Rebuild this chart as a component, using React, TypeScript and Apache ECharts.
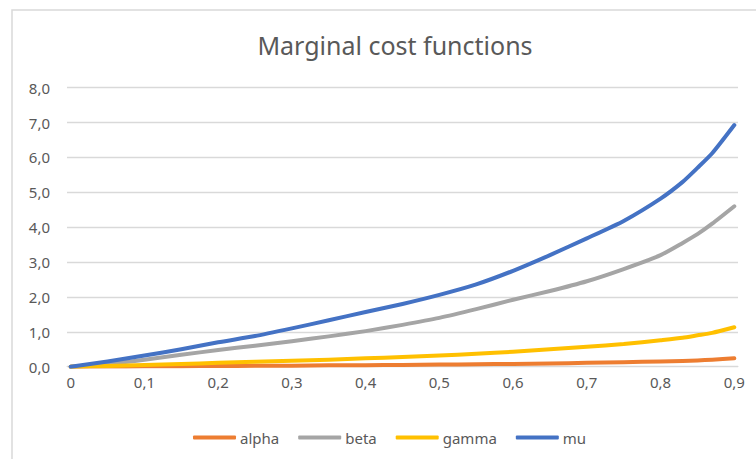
import React, { useEffect, useRef } from "react";
import * as echarts from "echarts";

const xPoints = [0, 0.05, 0.1, 0.15, 0.2, 0.25, 0.3, 0.35, 0.4, 0.45, 0.5, 0.55, 0.6, 0.65, 0.7, 0.75, 0.8, 0.83, 0.85, 0.87, 0.9];
const alpha = [0, 0.005, 0.01, 0.015, 0.02, 0.025, 0.03, 0.04, 0.045, 0.05, 0.06, 0.07, 0.08, 0.09, 0.11, 0.13, 0.15, 0.165, 0.18, 0.2, 0.24];
const beta = [0, 0.08, 0.2, 0.34, 0.48, 0.6, 0.73, 0.87, 1.02, 1.2, 1.4, 1.65, 1.92, 2.17, 2.45, 2.8, 3.2, 3.55, 3.8, 4.1, 4.6];
const gamma = [0, 0.02, 0.05, 0.08, 0.11, 0.14, 0.17, 0.2, 0.24, 0.28, 0.32, 0.37, 0.43, 0.5, 0.57, 0.65, 0.76, 0.83, 0.9, 0.97, 1.13];
const mu = [0, 0.15, 0.32, 0.5, 0.7, 0.88, 1.1, 1.33, 1.57, 1.8, 2.06, 2.36, 2.75, 3.2, 3.68, 4.18, 4.82, 5.3, 5.7, 6.12, 6.93];

const categoryCount = 91; // 0 .. 0,90 in steps of 0,01
const categories = Array.from({ length: categoryCount }, (_, i) =>
  i === 0 ? "0" : String(i / 100).replace(".", ",")
);

const seriesDefs = [
  { name: "alpha", values: alpha, color: "#ED7D31" },
  { name: "beta", values: beta, color: "#A5A5A5" },
  { name: "gamma", values: gamma, color: "#FFC000" },
  { name: "mu", values: mu, color: "#4472C4" },
];

const FONT = "'Noto Sans', 'Open Sans', sans-serif";
const TEXT = "#595959";
const GRID = "#d9d9d9";

export default function App() {
  const ref = useRef<HTMLDivElement>(null);
  useEffect(() => {
    if (!ref.current) return;
    const chart = echarts.init(ref.current, null, { renderer: "svg" });
    chart.setOption({
      animation: false,
      backgroundColor: "#ffffff",
      textStyle: { fontFamily: FONT },
      graphic: [
        {
          type: "rect",
          shape: { x: 12, y: 10, width: 770, height: 470 },
          style: { fill: "none", stroke: GRID, lineWidth: 1.5 },
          silent: true,
        },
      ],
      title: {
        text: "Marginal cost functions",
        left: 390,
        textAlign: "center",
        top: 27,
        textStyle: { fontFamily: FONT, fontSize: 25, fontWeight: "normal", color: TEXT },
      },
      legend: {
        top: 425,
        left: 188,
        icon: "roundRect",
        itemWidth: 43,
        itemHeight: 4,
        itemGap: 19,
        textStyle: { fontFamily: FONT, fontSize: 15, color: TEXT, padding: [0, 0, 0, -1] },
        data: seriesDefs.map((s) => s.name),
      },
      grid: { left: 67, right: 18, top: 87.7, bottom: 92.3, containLabel: false },
      xAxis: {
        type: "category",
        data: categories,
        boundaryGap: true,
        axisLine: { show: true, lineStyle: { color: GRID, width: 1 } },
        axisTick: { show: false },
        axisLabel: {
          interval: (index: number) => index % 10 === 0,
          color: TEXT,
          fontSize: 15,
          fontFamily: FONT,
          margin: 8,
        },
        splitLine: { show: false },
      },
      yAxis: {
        type: "value",
        min: 0,
        max: 8,
        interval: 1,
        axisLine: { show: false },
        axisTick: { show: false },
        axisLabel: {
          color: TEXT,
          fontSize: 15,
          fontFamily: FONT,
          margin: 17,
          formatter: (v: number) => v.toFixed(1).replace(".", ","),
        },
        splitLine: { show: true, lineStyle: { color: GRID, width: 1.3 } },
      },
      series: seriesDefs.map((s) => ({
        name: s.name,
        type: "line",
        data: xPoints.map((x, i) => [Math.round(x * 100), s.values[i]]),
        showSymbol: false,
        symbol: "none",
        smooth: 0.2,
        lineStyle: { color: s.color, width: 4, cap: "round", join: "round" },
        itemStyle: { color: s.color },
      })),
    });
    return () => chart.dispose();
  }, []);
  return (
    <div
      ref={ref}
      style={{ position: "fixed", left: 0, top: 0, width: 756, height: 459 }}
    />
  );
}
